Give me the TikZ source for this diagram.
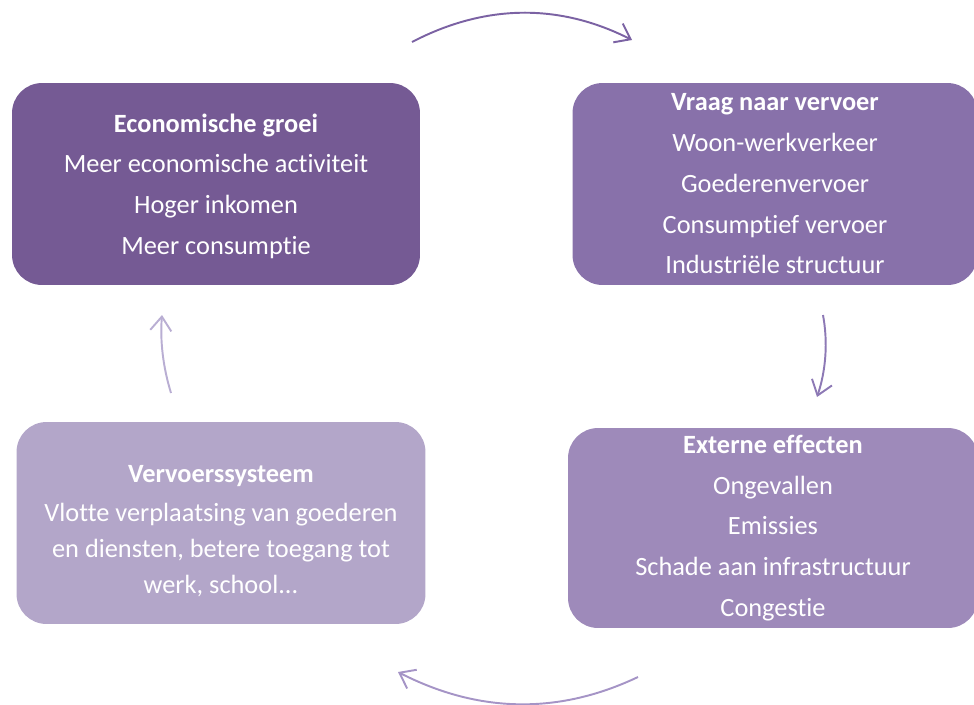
\documentclass[tikz,border=0pt]{standalone}
\usepackage{fontspec}
\setmainfont{Carlito}[Ligatures=NoCommon]
\usepackage{xcolor}
\usetikzlibrary{arrows.meta}

\definecolor{econcol}{HTML}{755A94}
\definecolor{vraagcol}{HTML}{8871AA}
\definecolor{externcol}{HTML}{9E8ABA}
\definecolor{systcol}{HTML}{B3A6C9}
\definecolor{arrA}{HTML}{7B62A3}
\definecolor{arrB}{HTML}{8D79B5}
\definecolor{arrC}{HTML}{A594C6}
\definecolor{arrD}{HTML}{B9AED3}

\begin{document}
\begin{tikzpicture}[x=0.02cm, y=-0.02cm,
  box/.style={rounded corners=0.6cm, minimum width=8.16cm,
              minimum height=4.04cm, align=center, text=white,
              font=\fontsize{15}{23.2}\selectfont},
  arr/.style={-{Straight Barb[length=8pt,width=12pt]}, line width=1.1pt}
]
\useasboundingbox (0,0) rectangle (974,704);

\node[box, fill=econcol] (econ) at (216,184)
  {\rule{0pt}{13pt}\textbf{Economische groei}\\Meer economische activiteit\\Hoger inkomen\\Meer consumptie};
\node[box, fill=vraagcol, minimum width=8.1cm] (vraag) at (775,184)
  {\textbf{Vraag naar vervoer}\\Woon-werkverkeer\\Goederenvervoer\\Consumptief vervoer\\Industriële structuur};
\node[box, fill=externcol, minimum width=8.2cm, minimum height=4cm] (extern) at (773,528)
  {\textbf{Externe effecten}\\Ongevallen\\Emissies\\Schade aan infrastructuur\\Congestie};
\node[box, fill=systcol, minimum width=8.18cm, font=\fontsize{15}{20.4}\selectfont] (systeem) at (221,523)
  {\rule{0pt}{19pt}\textbf{Vervoerssysteem}\\[2pt]Vlotte verplaatsing van goederen\\en diensten, betere toegang tot\\werk, school...};

% cycle arrows
\coordinate (topA) at (412,42);
\coordinate (topB) at (632,40);
\coordinate (rightA) at (823,315);
\coordinate (rightB) at (817,397);
\coordinate (botA) at (638,677);
\coordinate (botB) at (398,672);
\coordinate (leftA) at (171,393);
\coordinate (leftB) at (162,315);

\draw[arr, arrA] (topA) .. controls (485,4) and (559,3) .. (topB);
\draw[arr, arrB] (rightA) .. controls (828,342) and (826,370) .. (rightB);
\draw[arr, arrC] (botA) .. controls (558,715) and (478,713) .. (botB);
\draw[arr, arrD] (leftA) .. controls (163,367) and (160,341) .. (leftB);
\end{tikzpicture}
\end{document}
